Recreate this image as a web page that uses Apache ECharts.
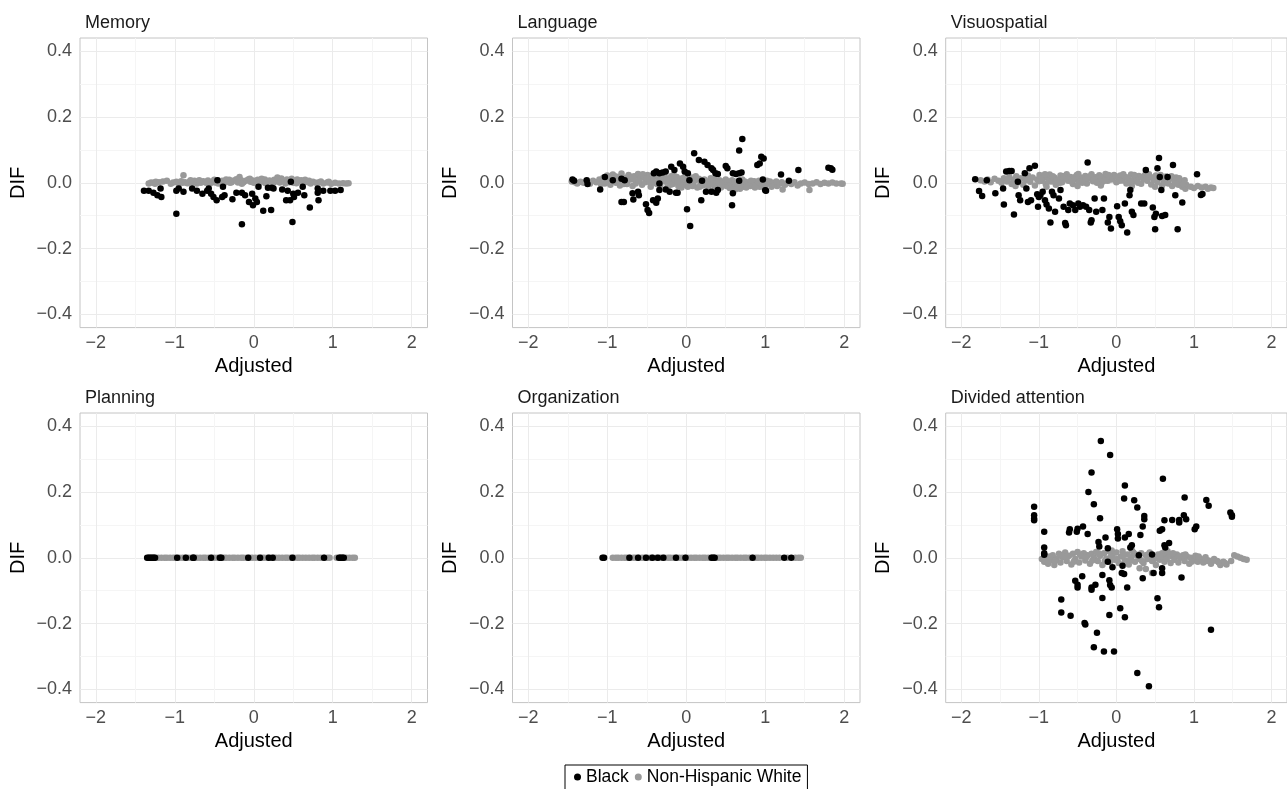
<!DOCTYPE html>
<html>
<head>
    <meta http-equiv="Content-Type" content="text/html; charset=utf-8" />
    <title>DIF by domain</title>
    <style>
        html, body { margin: 0; padding: 0; background: #fff; }
        #dif-chart { width: 1287px; height: 789px; }
    </style>
</head>
<body>
<div id="dif-chart"></div>
<script src="https://cdn.jsdelivr.net/npm/echarts@6/dist/echarts.min.js"></script>
<script>
    // panel titles
    var panelTitles = ["Memory", "Language", "Visuospatial", "Planning", "Organization", "Divided attention"];
    var groupNames = ["Black", "Non-Hispanic White"];
    var xTicks = [-2, -1, 0, 1, 2];
    var xMinor = [-1.5, -0.5, 0.5, 1.5];
    var yTicks = [-0.4, -0.2, 0, 0.2, 0.4];
    var yMinor = [-0.3, -0.1, 0.1, 0.3];

    /* ---- Memory ---- */
    var memWhite = [[-1.33,-0.002],[-1.30,0.001],[-1.27,0.000],[-1.24,0.003],[-1.20,0.002],[-1.15,0.004],[-1.10,0.006],[-1.05,-0.003],[-1.02,0.001],[-0.98,0.003],[-0.95,-0.002],[-0.92,0.005],[-0.89,0.023],[-0.87,0.002],[-0.84,-0.001],[-0.81,0.004],[-0.78,0.001],[-0.75,0.006],[-0.72,-0.002],[-0.70,0.003],[-0.67,0.000],[-0.64,0.005],[-0.61,0.002],[-0.58,0.007],[-0.55,-0.001],[-0.52,0.004],[-0.49,0.001],[-0.46,0.008],[-0.43,0.003],[-0.40,0.006],[-0.37,0.000],[-0.34,0.005],[-0.31,0.009],[-0.28,0.002],[-0.25,0.007],[-0.22,0.011],[-0.19,0.004],[-0.18,0.018],[-0.16,0.008],[-0.13,0.002],[-0.10,0.006],[-0.07,0.010],[-0.04,0.003],[-0.01,0.007],[0.02,0.004],[0.05,0.009],[0.08,0.001],[0.11,0.006],[0.14,0.010],[0.17,0.003],[0.20,0.007],[0.23,0.002],[0.26,0.009],[0.29,0.005],[0.30,0.016],[0.33,0.001],[0.36,0.008],[0.39,0.004],[0.42,0.010],[0.45,0.002],[0.48,0.012],[0.51,0.006],[0.54,-0.001],[0.57,0.004],[0.60,0.008],[0.63,0.001],[0.66,0.005],[0.69,0.002],[0.72,-0.002],[0.75,0.003],[0.79,0.000],[0.83,0.002],[0.88,-0.002],[0.93,0.001],[0.98,-0.003],[1.03,0.000],[1.08,-0.002],[1.13,-0.001],[1.17,-0.002],[1.20,-0.001],[-0.60,0.000],[-0.30,0.000],[0.00,0.000],[0.15,-0.001],[0.40,-0.002],[0.55,0.010],[-0.45,-0.002],[-0.15,-0.003],
        [-1.25,-0.003],[-0.90,0.000],[-0.80,0.008],[-0.69,0.008],[-0.50,0.009],[-0.35,0.010],[-0.20,0.001],[-0.05,0.012],[0.10,0.012],[0.25,0.000],[0.35,0.013],[0.50,0.000],[0.65,0.009],[0.70,0.006],[0.85,0.004],[0.95,0.003]];
    var memBlack = [[-1.39,-0.024],[-1.33,-0.024],[-1.27,-0.030],[-1.22,-0.038],[-1.17,-0.043],[-1.18,-0.017],[-0.98,-0.094],[-0.98,-0.024],[-0.95,-0.017],[-0.89,-0.027],[-0.78,-0.017],[-0.72,-0.024],[-0.65,-0.033],[-0.59,-0.024],[-0.57,-0.017],[-0.54,-0.033],[-0.51,-0.043],[-0.47,-0.053],[-0.46,0.008],[-0.40,-0.043],[-0.39,-0.012],[-0.37,-0.038],[-0.27,-0.050],[-0.22,-0.030],[-0.15,-0.030],[-0.15,-0.126],[-0.11,-0.038],[-0.06,-0.058],[-0.02,-0.033],[-0.01,-0.068],[0.02,-0.048],[0.04,-0.058],[0.06,-0.012],[0.12,-0.085],[0.16,-0.041],[0.18,-0.015],[0.22,-0.083],[0.23,-0.015],[0.25,-0.017],[0.36,-0.020],[0.41,-0.053],[0.43,-0.024],[0.46,-0.053],[0.47,0.003],[0.49,-0.119],[0.50,-0.033],[0.51,-0.043],[0.56,-0.030],[0.62,-0.012],[0.64,-0.038],[0.71,-0.075],[0.81,-0.017],[0.81,-0.030],[0.82,-0.053],[0.88,-0.024],[0.97,-0.024],[1.03,-0.024],[1.10,-0.022]];

    /* ---- Language ---- */
    var langWhite = [[-1.45,0.004],[-1.41,0.002],[-1.38,-0.002],[-1.34,0.003],[-1.30,0.000],[-1.27,0.005],[-1.22,-0.003],[-1.18,0.006],[-1.14,0.002],[-1.10,0.010],[-1.08,-0.004],[-1.05,0.015],[-1.03,-0.002],[-1.00,0.022],[-0.98,0.008],[-0.96,-0.006],[-0.93,0.025],[-0.91,0.012],[-0.89,0.000],[-0.86,0.018],[-0.84,-0.008],[-0.82,0.028],[-0.80,0.006],[-0.77,0.015],[-0.75,-0.004],[-0.73,0.024],[-0.70,0.010],[-0.68,-0.010],[-0.66,0.020],[-0.63,0.004],[-0.61,0.027],[-0.59,0.012],[-0.56,-0.006],[-0.54,0.018],[-0.52,0.002],[-0.49,0.024],[-0.47,0.009],[-0.45,-0.012],[-0.42,0.016],[-0.40,0.000],[-0.38,0.022],[-0.35,0.007],[-0.33,-0.008],[-0.31,0.014],[-0.28,0.025],[-0.26,0.003],[-0.24,-0.014],[-0.21,0.011],[-0.19,0.020],[-0.17,-0.004],[-0.14,0.008],[-0.12,0.018],[-0.10,-0.010],[-0.07,0.004],[-0.05,0.014],[-0.03,-0.006],[0.00,0.010],[0.02,-0.012],[0.04,0.002],[0.07,0.016],[0.09,-0.004],[0.11,0.008],[0.14,-0.014],[0.16,0.012],[0.18,0.000],[0.21,-0.008],[0.23,0.010],[0.25,0.003],[0.28,-0.012],[0.30,0.006],[0.32,-0.004],[0.35,0.012],[0.37,-0.010],[0.39,0.002],[0.42,0.008],[0.44,-0.014],[0.46,0.000],[0.49,0.006],[0.51,-0.010],[0.53,0.004],[0.56,-0.006],[0.58,0.008],[0.60,-0.014],[0.63,0.000],[0.65,-0.008],[0.67,0.006],[0.70,-0.003],[0.72,-0.012],[0.74,0.004],[0.77,-0.006],[0.79,0.002],[0.81,-0.010],[0.84,-0.002],[0.86,0.005],[0.88,-0.008],[0.91,0.000],[0.93,-0.012],[0.95,-0.004],[0.98,0.003],[1.00,-0.008],[1.03,-0.002],[1.06,0.004],[1.09,-0.006],[1.12,0.000],[1.15,-0.010],[1.18,-0.003],[1.21,0.002],[1.25,-0.006],[1.29,0.000],[1.33,-0.004],[1.37,0.002],[1.41,-0.008],[1.45,-0.002],[1.50,0.001],[1.55,-0.004],[1.60,-0.002],[1.65,0.002],[1.70,-0.004],[1.75,0.000],[1.80,-0.002],[1.85,0.001],[1.90,-0.002],[1.96,-0.002],[1.98,-0.003],[1.56,-0.022],[1.22,-0.020],[0.62,-0.020],[0.68,-0.018],
        [-0.99,0.002],[-0.94,0.010],[-0.90,0.020],[-0.85,0.005],[-0.79,-0.004],[-0.74,0.008],[-0.69,0.018],[-0.64,-0.002],[-0.60,0.006],[-0.55,0.026],[-0.50,0.012],[-0.46,0.002],[-0.41,0.028],[-0.37,-0.004],[-0.32,0.018],[-0.29,0.008],[-0.25,0.014],[-0.20,-0.006],[-0.16,0.024],[-0.11,0.004],[-0.06,-0.014],[-0.02,0.018],[0.03,0.006],[0.08,-0.010],[0.12,0.020],[0.17,-0.012],[0.22,0.004],[0.27,-0.004],[0.31,0.014],[0.36,-0.016],[0.41,0.002],[0.45,-0.006],[0.50,0.010],[0.55,-0.016],[0.61,0.004],[0.66,-0.012],[0.71,0.010],[0.76,-0.014],[0.82,0.006],[0.87,-0.014],[0.92,0.006],[0.97,-0.012],[1.02,0.006],[1.08,-0.012],[1.14,0.004]];
    var langBlack = [[-1.44,0.010],[-1.42,0.006],[-1.26,0.008],[-1.25,-0.004],[-1.09,-0.020],[-1.03,0.018],[-0.93,0.008],[-0.82,-0.058],[-0.79,-0.058],[-0.82,0.012],[-0.78,0.008],[-0.67,-0.051],[-0.68,-0.032],[-0.61,-0.027],[-0.60,-0.038],[-0.51,-0.065],[-0.49,-0.083],[-0.47,-0.092],[-0.42,-0.053],[-0.38,-0.061],[-0.36,-0.048],[-0.41,0.029],[-0.38,0.034],[-0.34,0.029],[-0.30,0.031],[-0.34,-0.022],[-0.26,-0.020],[-0.34,-0.002],[-0.26,0.034],[-0.19,0.049],[-0.15,0.039],[-0.08,0.059],[-0.04,0.049],[-0.02,0.034],[-0.21,-0.027],[-0.13,-0.030],[-0.11,-0.030],[0.01,-0.080],[0.05,-0.131],[0.02,0.029],[0.04,0.008],[0.10,0.090],[0.16,0.069],[0.19,-0.053],[0.20,0.006],[0.23,0.064],[0.27,0.054],[0.32,0.044],[0.34,0.039],[0.37,0.029],[0.25,-0.027],[0.32,-0.027],[0.38,-0.030],[0.40,-0.022],[0.50,0.051],[0.52,0.044],[0.40,0.027],[0.59,0.029],[0.63,0.027],[0.67,0.029],[0.70,0.031],[0.67,0.098],[0.71,0.133],[0.59,-0.032],[0.58,-0.068],[0.67,0.006],[0.90,0.054],[0.93,0.059],[0.95,0.079],[0.98,0.074],[1.00,-0.023],[0.97,0.010],[1.20,0.025],[1.30,0.006],[1.42,0.039],[1.80,0.046],[1.83,0.044],[1.85,0.040],[1.01,-0.024]];

    /* ---- Visuospatial ---- */
    var visWhite = [[-1.75,0.008],[-1.70,0.004],[-1.66,0.010],[-1.62,0.002],[-1.57,0.012],[-1.52,0.006],[-1.48,0.000],[-1.45,0.014],[-1.41,0.004],[-1.38,0.018],[-1.35,-0.004],[-1.32,0.010],[-1.29,0.020],[-1.26,0.002],[-1.23,0.014],[-1.20,-0.006],[-1.17,0.008],[-1.14,0.022],[-1.11,0.003],[-1.08,0.016],[-1.05,-0.008],[-1.02,0.010],[-0.99,0.024],[-0.96,0.006],[-0.94,0.018],[-0.91,-0.004],[-0.88,0.012],[-0.86,0.025],[-0.83,0.004],[-0.80,0.016],[-0.78,-0.006],[-0.75,0.010],[-0.72,0.022],[-0.70,0.002],[-0.67,0.014],[-0.64,0.026],[-0.62,0.006],[-0.59,0.018],[-0.56,-0.004],[-0.54,0.011],[-0.51,0.024],[-0.48,0.003],[-0.46,0.016],[-0.43,0.008],[-0.40,0.021],[-0.38,-0.002],[-0.35,0.013],[-0.32,0.026],[-0.30,0.005],[-0.27,0.017],[-0.24,0.009],[-0.22,0.023],[-0.19,0.000],[-0.16,0.014],[-0.14,0.027],[-0.11,0.006],[-0.08,0.019],[-0.06,0.010],[-0.03,0.024],[0.00,0.002],[0.03,0.015],[0.05,0.022],[0.08,0.007],[0.11,0.018],[0.13,-0.002],[0.16,0.012],[0.19,0.025],[0.21,0.004],[0.24,0.016],[0.27,0.009],[0.29,0.021],[0.32,-0.003],[0.35,0.013],[0.37,0.024],[0.40,0.006],[0.43,0.018],[0.45,-0.005],[0.48,0.010],[0.51,0.022],[0.53,0.002],[0.56,0.015],[0.59,-0.008],[0.61,0.008],[0.64,0.019],[0.67,-0.002],[0.69,0.012],[0.72,-0.010],[0.75,0.004],[0.77,0.016],[0.80,-0.006],[0.82,0.008],[0.85,-0.012],[0.87,0.002],[0.89,-0.018],[0.90,-0.006],[0.96,-0.012],[1.00,-0.016],[1.05,-0.010],[1.10,-0.014],[1.15,-0.012],[1.18,-0.018],[1.22,-0.014],[1.25,-0.016],[-0.90,-0.012],[-0.50,-0.010],[-0.20,-0.008],[0.20,-0.010],[0.50,-0.012],[-1.30,-0.010],
        [-0.97,0.014],[-0.92,0.026],[-0.87,0.004],[-0.82,0.020],[-0.77,0.008],[-0.73,0.000],[-0.68,0.020],[-0.63,0.010],[-0.58,0.004],[-0.53,0.018],[-0.49,0.027],[-0.44,0.000],[-0.39,0.012],[-0.34,0.020],[-0.29,0.010],[-0.25,0.000],[-0.20,0.018],[-0.15,0.006],[-0.10,0.024],[-0.05,0.014],[-0.01,0.020],[0.04,0.006],[0.09,0.026],[0.14,0.016],[0.18,0.004],[0.23,0.024],[0.28,0.000],[0.33,0.018],[0.38,0.010],[0.42,0.026],[0.47,0.016],[0.52,0.008],[0.57,0.024],[0.62,0.000],[0.66,0.010],[0.71,0.020],[0.76,-0.002],[0.81,0.014],[0.86,-0.004],[0.88,0.008],[-1.00,0.005],[-1.15,0.012],[-1.25,0.008],[-1.40,0.010]];
    var visBlack = [[-1.82,0.011],[-1.77,-0.025],[-1.73,-0.040],[-1.67,0.008],[-1.56,-0.032],[-1.45,-0.066],[-1.46,-0.017],[-1.42,0.034],[-1.38,0.036],[-1.35,0.036],[-1.32,-0.096],[-1.27,0.003],[-1.26,-0.038],[-1.24,-0.053],[-1.18,0.029],[-1.16,-0.017],[-1.12,0.044],[-1.05,0.052],[-1.14,-0.058],[-1.10,-0.053],[-1.02,-0.035],[-1.00,-0.043],[-0.98,-0.038],[-0.95,-0.027],[-1.01,-0.073],[-0.92,-0.053],[-0.90,-0.066],[-0.87,-0.078],[-0.85,-0.121],[-0.83,-0.027],[-0.81,-0.038],[-0.74,-0.048],[-0.79,-0.088],[-0.72,-0.022],[-0.68,-0.073],[-0.66,-0.122],[-0.65,-0.129],[-0.62,-0.083],[-0.60,-0.063],[-0.56,-0.068],[-0.53,-0.083],[-0.49,-0.063],[-0.47,-0.073],[-0.43,-0.068],[-0.39,-0.073],[-0.37,0.062],[-0.35,-0.083],[-0.32,-0.114],[-0.28,-0.048],[-0.33,-0.121],[-0.26,-0.088],[-0.18,-0.083],[-0.16,-0.048],[-0.09,-0.104],[-0.11,-0.121],[-0.07,-0.139],[0.01,-0.071],[0.03,-0.104],[0.05,-0.117],[0.07,-0.129],[0.11,-0.063],[0.14,-0.151],[0.17,-0.038],[0.18,-0.022],[0.20,-0.088],[0.22,-0.098],[0.32,-0.063],[0.36,-0.063],[0.38,0.039],[0.47,-0.075],[0.49,-0.104],[0.51,-0.094],[0.50,-0.141],[0.53,0.044],[0.55,0.075],[0.56,0.018],[0.58,-0.022],[0.59,-0.101],[0.63,-0.098],[0.66,0.018],[0.73,0.054],[0.76,-0.038],[0.79,-0.141],[0.85,-0.060],[1.04,0.026],[1.09,-0.037],[1.11,-0.034]];

    /* ---- Planning (all DIF = 0) ---- */
    var planWhiteX = [-1.32,-1.28,-1.25,-1.21,-1.17,-1.13,-1.10,-1.06,-1.02,-0.99,-0.94,-0.90,-0.87,-0.83,-0.79,-0.75,-0.72,-0.68,-0.64,-0.61,-0.57,-0.53,-0.50,-0.46,-0.42,-0.38,-0.35,-0.31,-0.27,-0.24,-0.20,-0.16,-0.13,-0.09,-0.05,-0.02,0.02,0.06,0.10,0.13,0.17,0.21,0.25,0.28,0.32,0.36,0.40,0.43,0.47,0.51,0.55,0.58,0.62,0.66,0.70,0.74,0.77,0.81,0.85,0.89,0.93,0.96,1.05,1.09,1.13,1.17,1.21,1.25,1.28];
    var planBlackX = [-1.35,-1.33,-1.31,-1.29,-1.27,-1.25,-0.97,-0.86,-0.77,-0.76,-0.54,-0.43,-0.41,-0.07,0.08,0.19,0.24,0.49,0.89,1.08,1.10,1.12,1.14];

    /* ---- Organization (all DIF = 0) ---- */
    var orgWhiteX = [-0.93,-0.89,-0.86,-0.82,-0.78,-0.75,-0.71,-0.67,-0.64,-0.60,-0.56,-0.53,-0.49,-0.45,-0.42,-0.38,-0.34,-0.31,-0.27,-0.23,-0.20,-0.16,-0.12,-0.09,-0.05,-0.01,0.02,0.06,0.10,0.13,0.17,0.21,0.24,0.28,0.32,0.36,0.40,0.43,0.47,0.51,0.54,0.58,0.62,0.65,0.69,0.73,0.76,0.80,0.84,0.88,0.91,0.95,0.99,1.02,1.06,1.10,1.14,1.18,1.28,1.38,1.42,1.45];
    var orgBlackX = [-1.06,-1.04,-0.72,-0.61,-0.51,-0.43,-0.36,-0.29,-0.13,-0.01,0.32,0.34,0.36,0.84,1.24,1.33];

    /* ---- Divided attention ---- */
    var divWhite = [[-0.96,-0.004],[-0.93,-0.012],[-0.90,0.002],[-0.88,-0.018],[-0.85,-0.008],[-0.82,0.008],[-0.80,-0.022],[-0.77,-0.004],[-0.74,0.012],[-0.72,-0.014],[-0.69,0.002],[-0.66,0.016],[-0.64,-0.010],[-0.61,0.006],[-0.58,-0.020],[-0.56,0.012],[-0.53,-0.004],[-0.50,0.018],[-0.48,-0.014],[-0.45,0.004],[-0.42,0.014],[-0.40,-0.008],[-0.37,0.008],[-0.34,-0.018],[-0.32,0.012],[-0.29,0.000],[-0.26,0.018],[-0.24,-0.010],[-0.21,0.006],[-0.18,-0.022],[-0.16,0.014],[-0.13,-0.002],[-0.10,0.020],[-0.08,-0.012],[-0.05,0.008],[-0.02,-0.006],[0.00,0.016],[0.03,-0.016],[0.06,0.004],[0.08,0.020],[0.11,-0.008],[0.14,0.010],[0.16,-0.020],[0.19,0.002],[0.22,0.016],[0.24,-0.012],[0.27,0.006],[0.30,-0.004],[0.32,0.014],[0.35,-0.016],[0.38,0.008],[0.40,-0.004],[0.43,0.016],[0.46,-0.010],[0.48,0.004],[0.51,-0.022],[0.54,0.010],[0.56,-0.006],[0.59,0.014],[0.62,-0.012],[0.64,0.002],[0.67,0.012],[0.70,-0.016],[0.72,0.004],[0.75,-0.006],[0.78,0.010],[0.80,-0.014],[0.83,0.000],[0.86,0.008],[0.88,-0.010],[0.91,0.004],[0.94,-0.018],[0.96,0.000],[0.99,-0.008],[1.02,0.006],[1.05,-0.012],[1.08,-0.002],[1.12,-0.014],[1.15,0.002],[1.19,-0.008],[1.22,-0.018],[1.26,-0.004],[1.30,-0.010],[1.34,-0.022],[1.38,-0.012],[1.42,-0.020],[1.48,-0.010],[1.52,0.008],[1.56,0.004],[1.60,0.000],[1.64,-0.004],[1.68,-0.006],[0.30,-0.032],[0.38,-0.034],[0.20,0.022],[-0.06,0.022],[0.66,0.020],[0.46,-0.046],
        [-0.91,-0.010],[-0.86,0.004],[-0.79,-0.010],[-0.71,0.006],[-0.63,0.004],[-0.55,-0.012],[-0.47,0.010],[-0.39,0.002],[-0.31,-0.008],[-0.23,0.014],[-0.15,-0.010],[-0.07,0.004],[0.01,-0.004],[0.09,0.008],[0.17,-0.008],[0.25,0.010],[0.33,-0.010],[0.41,0.010],[0.49,-0.004],[0.57,0.004],[0.65,-0.004],[0.73,0.014],[0.81,0.004],[0.89,0.010],[0.97,-0.012],[1.06,0.004],[1.16,-0.010],[1.24,-0.010],[1.32,-0.014],[1.40,-0.016]];
    var divBlack = [[-0.20,0.355],[-0.08,0.312],[-0.32,0.259],[-0.36,0.200],[-0.29,0.163],[-0.21,0.120],[-1.06,0.155],[-1.06,0.129],[-1.06,0.119],[-1.06,0.114],[-0.93,0.079],[-0.93,0.031],[-0.93,0.014],[-0.93,0.009],[-0.60,0.087],[-0.61,0.077],[-0.51,0.079],[-0.50,0.088],[-0.43,0.095],[-0.37,0.072],[-0.23,0.048],[-0.22,0.034],[-0.14,0.062],[-0.11,0.029],[-0.11,-0.012],[-0.05,-0.029],[0.01,0.087],[0.02,0.072],[0.02,0.059],[0.11,0.220],[0.10,0.180],[0.11,0.062],[0.16,0.072],[0.18,0.031],[0.20,0.038],[0.23,0.175],[0.27,0.153],[0.31,0.069],[0.34,0.095],[0.36,0.127],[0.36,0.117],[0.29,0.008],[0.34,-0.062],[0.46,0.010],[0.48,-0.046],[0.53,-0.123],[0.55,-0.150],[0.56,0.082],[0.59,0.087],[0.60,0.240],[0.62,0.114],[0.62,0.038],[0.63,0.031],[0.68,0.045],[0.59,-0.032],[0.59,-0.046],[0.72,0.115],[0.81,0.115],[0.81,0.107],[0.84,-0.060],[0.87,0.129],[0.90,0.117],[0.88,0.183],[1.01,0.087],[1.03,0.095],[1.16,0.176],[1.19,0.158],[1.22,-0.219],[1.47,0.138],[1.49,0.129],[1.49,0.125],[-0.71,-0.127],[-0.71,-0.166],[-0.59,-0.176],[-0.53,-0.070],[-0.50,-0.082],[-0.50,-0.090],[-0.44,-0.056],[-0.41,-0.198],[-0.40,-0.203],[-0.32,-0.090],[-0.32,-0.097],[-0.27,-0.082],[-0.25,-0.228],[-0.29,-0.272],[-0.18,-0.052],[-0.18,-0.122],[-0.16,-0.285],[-0.09,-0.068],[-0.08,-0.083],[-0.06,-0.090],[-0.09,-0.174],[-0.03,-0.285],[0.07,-0.046],[0.10,-0.049],[0.05,-0.153],[0.14,-0.090],[0.11,-0.181],[0.08,-0.024],[0.27,-0.350],[0.42,-0.390]];

    function onLine(xs) {
        return xs.map(function (x) { return [x, 0]; });
    }

    var panelWhite = [memWhite, langWhite, visWhite, onLine(planWhiteX), onLine(orgWhiteX), divWhite];
    var panelBlack = [memBlack, langBlack, visBlack, onLine(planBlackX), onLine(orgBlackX), divBlack];

    var FONT = "'Liberation Sans', Arial, Helvetica, sans-serif";
    var colLeft = [80, 512.5, 945.7];
    var rowTop = [38, 413];
    var panelW = 347.5, panelH = 289.6;

    function minus(v, digits) {
        var s = digits ? Math.abs(v).toFixed(digits) : String(Math.abs(v));
        return (v < 0 ? '\u2212' : '') + s;
    }

    var grids = [], xAxes = [], yAxes = [], titles = [], series = [];
    for (var i = 0; i < 6; i++) {
        var c = i % 3, r = Math.floor(i / 3);
        grids.push({
            left: colLeft[c], top: rowTop[r], width: panelW, height: panelH,
            show: true, borderColor: '#c4c4c4', borderWidth: 1, backgroundColor: '#fff'
        });
        titles.push({
            text: panelTitles[i], left: colLeft[c] + 5, top: rowTop[r] - 24, padding: 0,
            textStyle: { fontFamily: FONT, fontSize: 18, fontWeight: 'normal', color: '#1a1a1a' }
        });
        // main x axis (labels + major grid)
        xAxes.push({
            type: 'value', gridIndex: i, min: -2.2, max: 2.2,
            name: 'Adjusted', nameLocation: 'middle', nameGap: 29,
            nameTextStyle: { fontFamily: FONT, fontSize: 20, color: '#000' },
            axisLine: { show: false },
            axisTick: { show: false, customValues: xTicks },
            axisLabel: { customValues: xTicks, margin: 6, fontFamily: FONT, fontSize: 18, color: '#4d4d4d',
                formatter: function (v) { return minus(v); } },
            splitLine: { show: true, lineStyle: { color: '#ebebeb', width: 1 } }
        });
        // minor x grid
        xAxes.push({
            type: 'value', gridIndex: i, min: -2.2, max: 2.2,
            axisLine: { show: false },
            axisTick: { show: false, customValues: xMinor },
            axisLabel: { show: false },
            splitLine: { show: true, lineStyle: { color: '#f5f5f5', width: 1 } }
        });
        yAxes.push({
            type: 'value', gridIndex: i, min: -0.44, max: 0.44,
            name: 'DIF', nameLocation: 'middle', nameGap: 52,
            nameTextStyle: { fontFamily: FONT, fontSize: 20, color: '#000' },
            axisLine: { show: false },
            axisTick: { show: false, customValues: yTicks },
            axisLabel: { customValues: yTicks, margin: 8, fontFamily: FONT, fontSize: 18, color: '#4d4d4d',
                formatter: function (v) { return minus(Math.round(v * 10) / 10, 1); } },
            splitLine: { show: true, lineStyle: { color: '#ebebeb', width: 1 } }
        });
        yAxes.push({
            type: 'value', gridIndex: i, min: -0.44, max: 0.44,
            axisLine: { show: false },
            axisTick: { show: false, customValues: yMinor },
            axisLabel: { show: false },
            splitLine: { show: true, lineStyle: { color: '#f5f5f5', width: 1 } }
        });
        series.push({
            name: groupNames[1], type: 'scatter', xAxisIndex: 2 * i, yAxisIndex: 2 * i,
            data: panelWhite[i], symbolSize: 6.5, itemStyle: { color: '#999999', opacity: 1 }, z: 2
        });
        series.push({
            name: groupNames[0], type: 'scatter', xAxisIndex: 2 * i, yAxisIndex: 2 * i,
            data: panelBlack[i], symbolSize: 6.5, itemStyle: { color: '#000000', opacity: 1 }, z: 3
        });
    }

    var myChart = echarts.init(document.getElementById('dif-chart'), null, { renderer: 'canvas' });
    myChart.setOption({
        animation: false,
        backgroundColor: '#fff',
        title: titles,
        grid: grids,
        xAxis: xAxes,
        yAxis: yAxes,
        legend: {
            data: groupNames,
            left: 565, top: 765,
            icon: 'circle', itemWidth: 7, itemHeight: 7, itemGap: 6,
            borderColor: '#000', borderWidth: 1, borderRadius: 0,
            padding: [3, 6, 6, 9],
            textStyle: { fontFamily: FONT, fontSize: 17.5, color: '#000' }
        },
        series: series
    });
</script>
</body>
</html>
